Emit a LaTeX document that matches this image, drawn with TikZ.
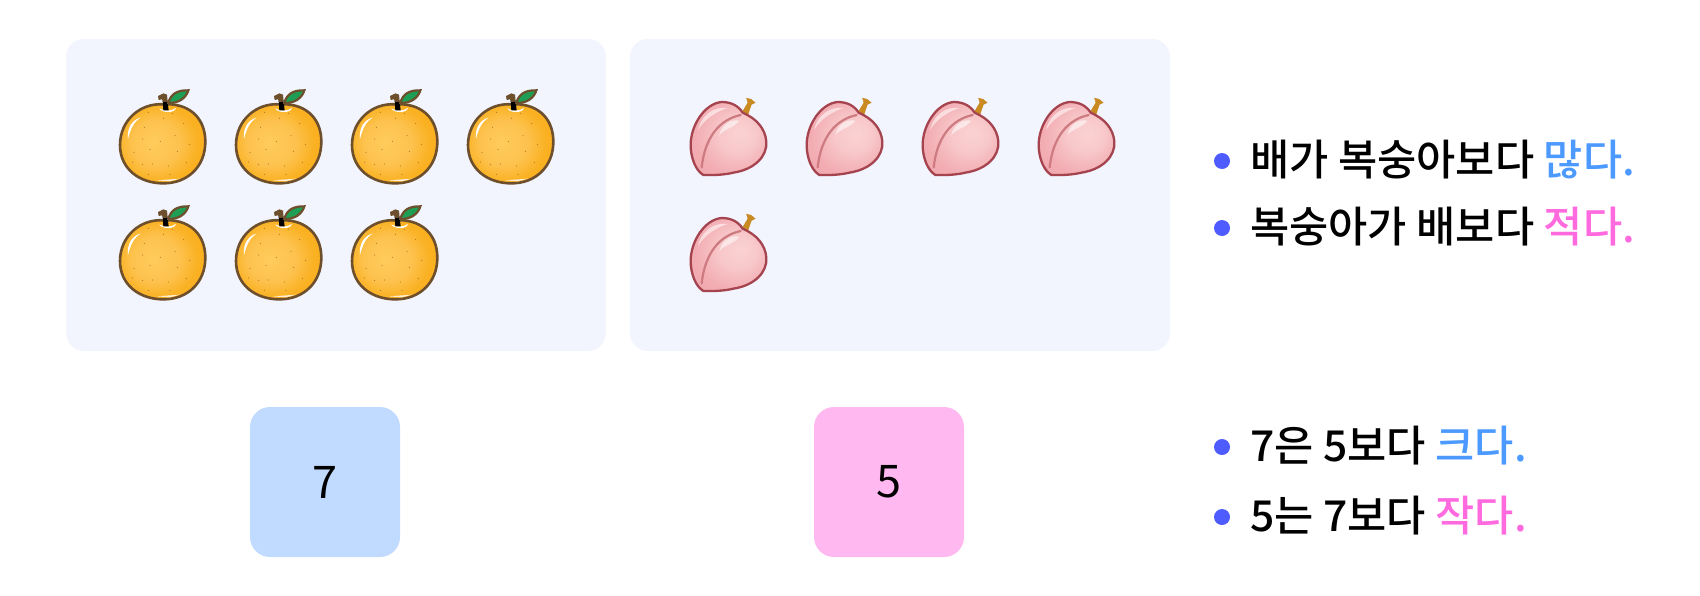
\documentclass[tikz,border=0pt]{standalone}
\usepackage{fontspec}
\setmainfont{Noto Sans CJK KR Medium}
\newfontfamily\digitfont{Noto Sans CJK KR}
\definecolor{panelbg}{HTML}{F2F4FE}
\definecolor{bluesq}{HTML}{C0DBFF}
\definecolor{pinksq}{HTML}{FFB8F0}
\definecolor{bluetxt}{HTML}{4C9AFF}
\definecolor{pinktxt}{HTML}{FF6ADF}
\definecolor{bulletc}{HTML}{4D5BFF}
\definecolor{pearline}{HTML}{6E4F2C}
\definecolor{peachline}{HTML}{A5444E}
\definecolor{pearA}{HTML}{FFCC5C}
\definecolor{pearB}{HTML}{FDC24E}
\definecolor{pearC}{HTML}{FAB122}
\definecolor{pearD}{HTML}{F5A412}
\definecolor{peachA}{HTML}{FAD2D2}
\definecolor{peachB}{HTML}{F8C8CA}
\definecolor{peachC}{HTML}{F2ADB3}
\definecolor{peachD}{HTML}{EE9CA4}
\definecolor{leafc}{HTML}{1E9E55}
\definecolor{peachstem}{HTML}{C98A22}
\pgfdeclareradialshading{pearshade}{\pgfpoint{-6bp}{0bp}}{color(0bp)=(pearA);color(14bp)=(pearB);color(24bp)=(pearC);color(50bp)=(pearD)}
\pgfdeclareradialshading{peachshade}{\pgfpoint{8bp}{4bp}}{color(0bp)=(peachA);color(12bp)=(peachB);color(26bp)=(peachC);color(50bp)=(peachD)}
\tikzset{
  x=0.5pt,y=-0.5pt,
  panel/.style={fill=panelbg,rounded corners=9pt},
  numbox/.style={rounded corners=10pt,minimum width=75pt,minimum height=75pt,inner sep=0pt,font=\digitfont\fontsize{22.5}{22.5}\selectfont},
  bulletdot/.style={circle,fill=bulletc,minimum size=8pt,inner sep=0pt},
  sentence/.style={anchor=base west,inner sep=0pt,font=\fontsize{21.3}{24}\selectfont},
  pearpic/.pic={
    \begin{scope}[scale=1/3]
      \path[shading=pearshade] (190,103) .. controls (122,98) and (60,150) .. (60,225) .. controls (60,298) and (120,340) .. (190,340) .. controls (263,340) and (316,290) .. (316,215) .. controls (316,140) and (263,98) .. (190,103) -- cycle;
      \draw[pearline,line width=1.3pt] (190,103) .. controls (122,98) and (60,150) .. (60,225) .. controls (60,298) and (120,340) .. (190,340) .. controls (263,340) and (316,290) .. (316,215) .. controls (316,140) and (263,98) .. (190,103) -- cycle;
      \fill[white] (178,115) .. controls (190,124) and (215,124) .. (228,114) .. controls (225,130) and (185,130) .. (178,115) -- cycle;
      \fill[white] (122,143) .. controls (100,148) and (80,170) .. (84,207) .. controls (92,175) and (102,155) .. (122,143) -- cycle;
      \fill[white,opacity=.8] (170,331) -- (240,326) -- (210,334) -- cycle;
      \foreach \dx/\dy in {145/127,190/145,217/130,251/160,133/172,127/207,181/214,225/197,268/223,150/238,232/244,102/248,98/276,128/283,157/282,205/288,259/278,145/313,210/313}
        \fill[pearline!70!orange] (\dx,\dy) circle (1.5);
      \fill[black] (188,92) -- (202,90) -- (206,121) -- (190,121) -- cycle;
      \fill[pearline] (174,78) -- (190,70) -- (201,74) -- (203,95) -- (189,96) -- (186,88) -- (176,90) -- cycle;
      \filldraw[fill=leafc,draw=pearline,line width=1.1pt] (205,99) .. controls (212,72) and (232,60) .. (265,61) .. controls (258,85) and (235,100) .. (205,99) -- cycle;
    \end{scope}},
  peachpic/.pic={
    \begin{scope}[scale=1/3]
      \filldraw[fill=peachstem,draw=peachstem,line width=.3pt] (216,98) -- (234,68) -- (230,55) -- (243,58) -- (255,68) -- (244,73) -- (234,102) -- cycle;
      \path[shading=peachshade] (218,98) .. controls (205,78) and (185,66) .. (155,66) .. controls (105,70) and (62,135) .. (62,195) .. controls (62,235) and (78,272) .. (100,285) .. controls (135,286) and (165,284) .. (190,278) .. controls (255,268) and (292,228) .. (289,185) .. controls (286,145) and (258,115) .. (218,98) -- cycle;
      \draw[peachline,line width=1.15pt] (218,98) .. controls (205,78) and (185,66) .. (155,66) .. controls (105,70) and (62,135) .. (62,195) .. controls (62,235) and (78,272) .. (100,285) .. controls (135,286) and (165,284) .. (190,278) .. controls (255,268) and (292,228) .. (289,185) .. controls (286,145) and (258,115) .. (218,98) -- cycle;
      \draw[color=peachline!55!pink,line width=1.1pt,line cap=round] (212,105) .. controls (150,118) and (105,170) .. (95,262);
      \fill[white,opacity=.55] (84,150) .. controls (92,112) and (125,78) .. (172,84) .. controls (140,95) and (105,115) .. (84,150) -- cycle;
      \fill[white,opacity=.55] (148,165) .. controls (155,135) and (180,116) .. (208,122) .. controls (190,145) and (165,145) .. (148,165) -- cycle;
    \end{scope}}
}
\begin{document}
\begin{tikzpicture}
\useasboundingbox (0,0) rectangle (1700,595);
\fill[white] (0,0) rectangle (1700,595);
\path[panel] (66,39) rectangle (606,351);
\path[panel] (630,39) rectangle (1170,351);
\foreach \px/\py in {100/70,216/70,332/70,448/70,100/186,216/186,332/186}
  \pic at (\px,\py) {pearpic};
\foreach \px/\py in {670/80,786/80,902/80,1018/80,670/196}
  \pic at (\px,\py) {peachpic};
\node[numbox,fill=bluesq] (seven) at (325,482) {7};
\node[numbox,fill=pinksq] (five) at (889,482) {5};
\node[bulletdot] (b1) at (1222,161) {};
\node[bulletdot] (b2) at (1222,228) {};
\node[bulletdot] (b3) at (1222,447) {};
\node[bulletdot] (b4) at (1222,517) {};
\node[sentence] (s1) at (1250,175) {배가 복숭아보다 \textcolor{bluetxt}{많다.}};
\node[sentence] (s2) at (1250,242) {복숭아가 배보다 \textcolor{pinktxt}{적다.}};
\node[sentence] (s3) at (1250,461) {7은 5보다 \textcolor{bluetxt}{크다.}};
\node[sentence] (s4) at (1250,531) {5는 7보다 \textcolor{pinktxt}{작다.}};
\end{tikzpicture}
\end{document}
